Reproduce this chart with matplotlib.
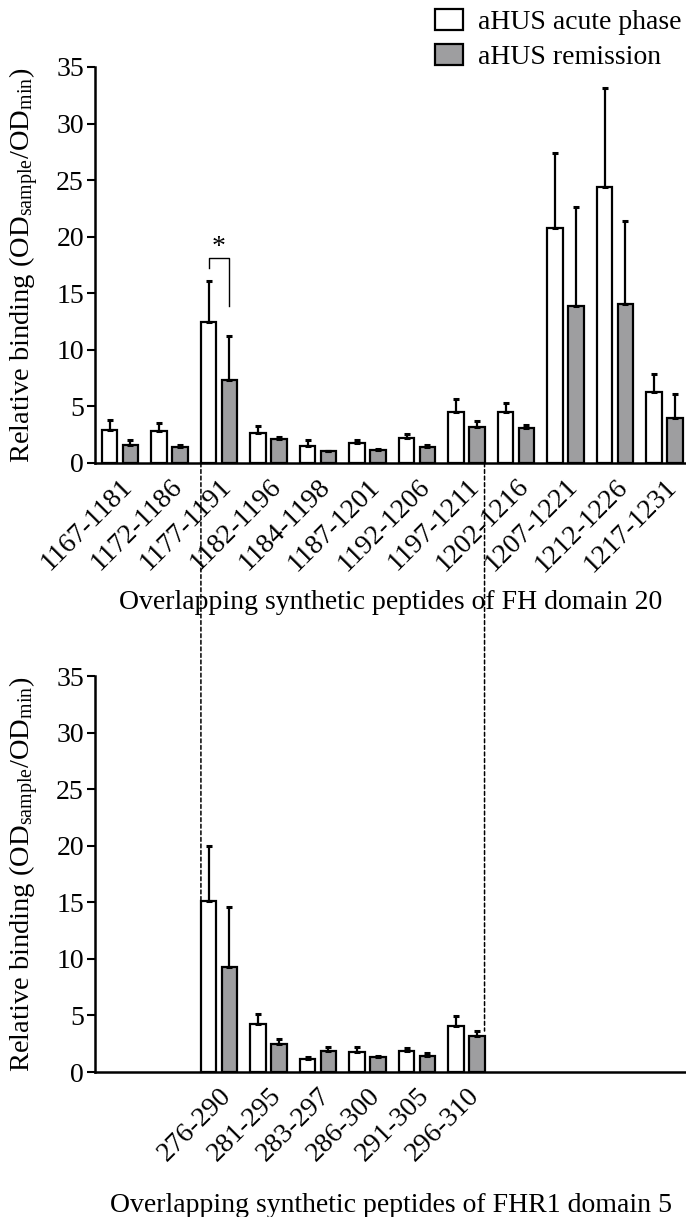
import numpy as np
import matplotlib
matplotlib.use("Agg")
import matplotlib.pyplot as plt
from matplotlib.patches import ConnectionPatch

plt.rcParams['font.family'] = ['Liberation Serif', 'DejaVu Serif']
plt.rcParams['mathtext.fontset'] = 'custom'
plt.rcParams['mathtext.rm'] = 'Liberation Serif'
plt.rcParams['mathtext.it'] = 'Liberation Serif:italic'

# FH domain 20 peptides
fh_labels = ['1167-1181', '1172-1186', '1177-1191', '1182-1196', '1184-1198', '1187-1201',
             '1192-1206', '1197-1211', '1202-1216', '1207-1221', '1212-1226', '1217-1231']
fh_acute = [2.9, 2.85, 12.45, 2.65, 1.5, 1.75, 2.25, 4.5, 4.47, 20.75, 24.4, 6.24]
fh_acute_err = [0.9, 0.7, 3.65, 0.65, 0.5, 0.25, 0.31, 1.15, 0.79, 6.65, 8.7, 1.64]
fh_remission = [1.6, 1.4, 7.3, 2.1, 1.06, 1.15, 1.44, 3.2, 3.12, 13.85, 14.03, 4.0]
fh_remission_err = [0.4, 0.2, 3.9, 0.2, 0.04, 0.05, 0.16, 0.5, 0.23, 8.75, 7.37, 2.06]

# FHR1 domain 5 peptides
fhr1_labels = ['276-290', '281-295', '283-297', '286-300', '291-305', '296-310']
fhr1_acute = [15.1, 4.25, 1.15, 1.8, 1.85, 4.06]
fhr1_acute_err = [4.85, 0.85, 0.2, 0.44, 0.3, 0.91]
fhr1_remission = [9.3, 2.45, 1.85, 1.3, 1.44, 3.18]
fhr1_remission_err = [5.3, 0.45, 0.39, 0.14, 0.21, 0.44]

series_names = ['aHUS acute phase', 'aHUS remission']
gray = '#9e9ea0'
fs = 20
bw = 0.31
off = 0.21

fig = plt.figure(figsize=(6.86, 12.17), dpi=100)
ax1 = fig.add_axes([95/686, 1 - 463/1217, 591/686, 396/1217])
ax2 = fig.add_axes([95/686, 1 - 1072/1217, 591/686, 396/1217])


def draw_panel(ax, x, acute, acute_err, rem, rem_err, labels, xlabel, label_y):
    ekw = dict(ecolor='black', elinewidth=1.6, capsize=2.5, capthick=2.2)
    z = np.zeros(len(x))
    b1 = ax.bar(x - off, acute, bw, color='white', edgecolor='black', linewidth=1.6,
                yerr=[z, acute_err], error_kw=ekw, label=series_names[0])
    b2 = ax.bar(x + off, rem, bw, color=gray, edgecolor='black', linewidth=1.6,
                yerr=[z, rem_err], error_kw=ekw, label=series_names[1])
    ax.set_xlim(-0.505, 11.435)
    ax.set_ylim(0, 35)
    ax.set_yticks(np.arange(0, 36, 5))
    ax.set_xticks(x)
    ax.set_xticklabels(labels, rotation=45, ha='right', va='top', rotation_mode='anchor')
    ax.tick_params(axis='x', length=0, pad=8, labelsize=fs)
    ax.tick_params(axis='y', length=6, width=1.5, labelsize=fs, pad=2)
    for s in ['top', 'right']:
        ax.spines[s].set_visible(False)
    for s in ['left', 'bottom']:
        ax.spines[s].set_linewidth(1.8)
    ax.set_ylabel(r'Relative binding (OD$_{\mathrm{sample}}$/OD$_{\mathrm{min}}$)', fontsize=20.5)
    ax.yaxis.set_label_coords(-0.092, 0.5)
    ax.set_xlabel(xlabel, fontsize=fs)
    ax.xaxis.set_label_coords(0.5, label_y)
    return b1, b2


x1 = np.arange(len(fh_labels))
h1, h2 = draw_panel(ax1, x1, fh_acute, fh_acute_err, fh_remission, fh_remission_err,
                    fh_labels, 'Overlapping synthetic peptides of FH domain 20', -0.32)

x2 = np.arange(len(fhr1_labels)) + 2
draw_panel(ax2, x2, fhr1_acute, fhr1_acute_err, fhr1_remission, fhr1_remission_err,
           fhr1_labels, 'Overlapping synthetic peptides of FHR1 domain 5', -0.305)

# significance bracket on 1177-1191
i = 2
ax1.plot([i - off, i - off, i + off, i + off], [17.2, 18.1, 18.1, 13.9], color='black', lw=1.0)
ax1.text(i, 17.9, '*', ha='center', va='bottom', fontsize=20)

# dashed connectors between panels
left_x = x2[0] - off - bw / 2
right_x = x2[-1] + off + bw / 2
for xa, yb in [(left_x, fhr1_acute[0]), (right_x, fhr1_remission[-1] + fhr1_remission_err[-1])]:
    con = ConnectionPatch(xyA=(xa, 0), coordsA=ax1.transData, xyB=(xa, yb), coordsB=ax2.transData,
                          color='black', lw=1.1, linestyle=(0, (2.5, 1.8)))
    fig.add_artist(con)

fig.legend([h1, h2], series_names, loc='upper left', bbox_to_anchor=(435/686, 1 - 9/1217),
           frameon=False, fontsize=fs, handlelength=1.0, handleheight=0.8,
           handletextpad=0.55, labelspacing=0.3, borderpad=0, borderaxespad=0)

fig.savefig('out.png', dpi=100)
